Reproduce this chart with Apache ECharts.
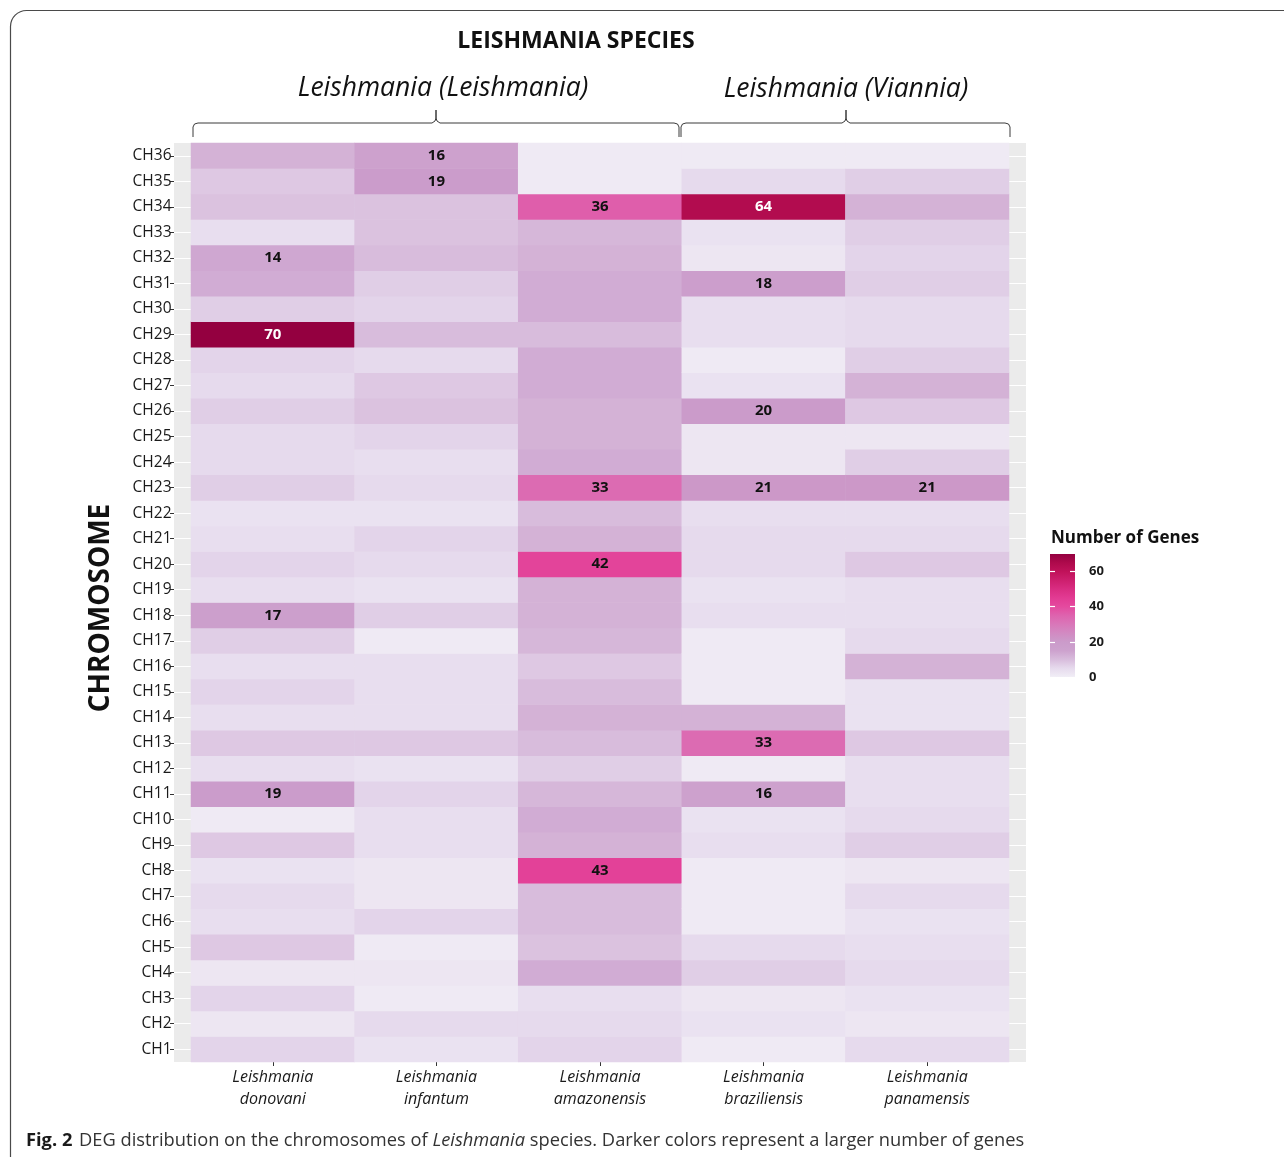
<!DOCTYPE html>
<html>
<head>
<meta charset="utf-8">
<title>DEG distribution on Leishmania chromosomes</title>
<script src="https://cdn.jsdelivr.net/npm/echarts@6/dist/echarts.min.js"></script>
<style>
  html, body { margin: 0; padding: 0; background: #ffffff; }
  #chart { width: 1284px; height: 1157px; }
</style>
</head>
<body>
<div id="chart"></div>
<script>
// Species (columns) and chromosomes (rows, CH1 at the bottom)
const species = ['donovani', 'infantum', 'amazonensis', 'braziliensis', 'panamensis'];
const chromosomes = Array.from({ length: 36 }, (_, i) => 'CH' + (i + 1));

// Number of differentially expressed genes per chromosome, CH1 ... CH36
const donovani     = [6, 2, 6, 2, 8, 4, 5, 3, 8, 1, 19, 4, 8, 4, 6, 4, 7, 17, 4, 6, 4, 3, 7, 5, 5, 7, 5, 6, 70, 7, 13, 14, 4, 9, 8, 12];
const infantum     = [3, 5, 1, 2, 1, 6, 2, 2, 4, 4, 6, 3, 8, 4, 4, 4, 1, 7, 3, 5, 6, 3, 5, 4, 6, 9, 8, 5, 10, 6, 7, 10, 9, 9, 19, 16];
const amazonensis  = [6, 5, 4, 13, 9, 10, 10, 43, 12, 13, 11, 7, 10, 12, 10, 8, 11, 12, 12, 42, 12, 10, 33, 13, 12, 12, 13, 13, 10, 13, 13, 12, 11, 36, 1, 1];
const braziliensis = [1, 3, 2, 7, 5, 1, 1, 1, 4, 3, 16, 1, 33, 12, 1, 1, 1, 4, 3, 5, 5, 4, 21, 2, 2, 20, 3, 1, 4, 4, 18, 2, 3, 64, 5, 1];
const panamensis   = [5, 2, 3, 5, 4, 3, 5, 2, 7, 5, 4, 4, 8, 3, 3, 12, 5, 4, 4, 8, 5, 4, 21, 7, 2, 8, 12, 7, 5, 5, 7, 6, 7, 12, 7, 1];

// Colour-bar ticks and the colour ramp of the gene counts (one colour every 5 genes)
const legendTicks = [0, 20, 40, 60];
const scaleMin = 0;
const scaleMax = 70;
const ramp = ['#f1eef6', '#e6daed', '#d8bcdc', '#cda2ce', '#cb9bca', '#d28ac2', '#d977b9', '#de63ae',
              '#e44a9f', '#e23b93', '#d92d82', '#cd1f6e', '#c0125a', '#ae0a4c', '#940040'];

const counts = [donovani, infantum, amazonensis, braziliensis, panamensis];
const labelThreshold = 14;

const FONT = "'Open Sans', 'Noto Sans', sans-serif";
const NARROW = "'Liberation Sans Narrow', 'Open Sans', sans-serif";

const cells = [];
counts.forEach((col, x) => {
  col.forEach((v, y) => {
    cells.push({
      value: [x, y, v],
      label: {
        show: v >= labelThreshold,
        color: v >= 60 ? '#ffffff' : '#111111'
      }
    });
  });
});

const chart = echarts.init(document.getElementById('chart'), null, { renderer: 'canvas' });

// Brace over a group of columns: ends turn down, peak in the middle
function brace(x0, x1, xm) {
  const yb = 123, yEnd = 137, yPeak = 110;
  return [
    { type: 'polyline', silent: true,
      shape: { points: [[x0, yEnd], [x0, yb + 4], [x0 + 1.5, yb + 1], [x0 + 5, yb], [xm - 4, yb], [xm - 1, yb - 2], [xm, yb - 5], [xm, yPeak]] },
      style: { stroke: '#3a3a3a', lineWidth: 1, fill: null } },
    { type: 'polyline', silent: true,
      shape: { points: [[xm, yPeak], [xm, yb - 5], [xm + 1, yb - 2], [xm + 4, yb], [x1 - 5, yb], [x1 - 1.5, yb + 1], [x1, yb + 4], [x1, yEnd]] },
      style: { stroke: '#3a3a3a', lineWidth: 1, fill: null } }
  ];
}

const option = {
  backgroundColor: '#ffffff',
  animation: false,
  grid: [
    // grey panel behind the tiles
    { left: 174, top: 143, width: 852, height: 919, show: true, backgroundColor: '#ebebeb', borderWidth: 0 },
    // tiles
    { left: 191, top: 143, width: 818, height: 919 },
    // colour bar
    { left: 1050, top: 554, width: 25, height: 123 }
  ],
  xAxis: [
    { gridIndex: 0, type: 'value', min: 0, max: 1, show: false },
    {
      gridIndex: 1, type: 'category', data: species,
      axisLine: { show: false },
      axisTick: { show: true, alignWithLabel: true, length: 4, lineStyle: { color: '#333333', width: 1 } },
      splitLine: { show: false },
      axisLabel: {
        margin: 4,
        fontFamily: FONT, fontStyle: 'italic', fontSize: 16, lineHeight: 22, color: '#1a1a1a',
        formatter: (s) => 'Leishmania\n' + s
      }
    },
    { gridIndex: 2, type: 'category', data: ['n'], show: false }
  ],
  yAxis: [
    { gridIndex: 0, type: 'category', data: chromosomes, show: false },
    {
      gridIndex: 1, type: 'category', data: chromosomes, offset: 17,
      axisLine: { show: false },
      axisTick: { show: true, alignWithLabel: true, length: 4, lineStyle: { color: '#333333', width: 1 } },
      splitLine: { show: false },
      axisLabel: { margin: 2.5, fontFamily: FONT, fontSize: 15.5, color: '#1a1a1a', padding: [3, 0, 0, 0] }
    },
    {
      gridIndex: 2, type: 'value', min: scaleMin, max: scaleMax, position: 'right', z: 5,
      axisLine: { show: false },
      axisTick: { show: true, inside: true, length: 5, customValues: legendTicks, lineStyle: { color: '#ffffff', width: 1.2 } },
      splitLine: { show: false },
      axisLabel: { margin: 14, customValues: legendTicks, fontFamily: FONT, fontWeight: 'bold', fontSize: 13, color: '#1a1a1a' }
    },
    {
      gridIndex: 2, type: 'value', min: scaleMin, max: scaleMax, position: 'left', z: 5,
      axisLine: { show: false },
      axisTick: { show: true, inside: true, length: 5, customValues: legendTicks, lineStyle: { color: '#ffffff', width: 1.2 } },
      splitLine: { show: false },
      axisLabel: { show: false }
    }
  ],
  visualMap: {
    type: 'continuous', show: false, seriesIndex: 1, dimension: 2,
    min: scaleMin, max: scaleMax, inRange: { color: ramp }
  },
  series: [
    {
      // white row guides in the grey panel
      type: 'scatter', xAxisIndex: 0, yAxisIndex: 0, z: 1, silent: true,
      symbolSize: 0, data: [[0, 0]],
      markLine: {
        z: 1, silent: true, symbol: 'none', animation: false,
        label: { show: false },
        lineStyle: { color: '#ffffff', width: 1.2, type: 'solid' },
        data: chromosomes.map((_, i) => ({ yAxis: i }))
      }
    },
    {
      type: 'heatmap', xAxisIndex: 1, yAxisIndex: 1, z: 10,
      data: cells,
      itemStyle: { borderWidth: 0 },
      label: {
        fontFamily: FONT, fontWeight: 'bold', fontSize: 15,
        formatter: (p) => p.value[2]
      },
      emphasis: { disabled: true }
    },
    {
      // colour bar
      type: 'bar', xAxisIndex: 2, yAxisIndex: 2, z: 2, silent: true,
      barWidth: '100%', data: [scaleMax],
      itemStyle: {
        color: new echarts.graphic.LinearGradient(0, 1, 0, 0,
          ramp.map((c, i) => ({ offset: i / (ramp.length - 1), color: c })))
      }
    }
  ],
  graphic: [
    {
      type: 'rect', silent: true, z: -10,
      shape: { x: 10.5, y: 10.5, width: 1320, height: 1200, r: 16 },
      style: { fill: null, stroke: '#4a4a4a', lineWidth: 1.2 }
    },
    {
      type: 'text', silent: true,
      style: { text: 'LEISHMANIA SPECIES', x: 576, y: 41, align: 'center', verticalAlign: 'middle',
               font: "bold 23px " + NARROW, fill: '#111111' }
    },
    {
      type: 'text', silent: true,
      style: { text: 'Leishmania (Leishmania)', x: 443, y: 88, align: 'center', verticalAlign: 'middle',
               font: "italic 26.5px " + FONT, fill: '#111111' }
    },
    {
      type: 'text', silent: true,
      style: { text: 'Leishmania (Viannia)', x: 846, y: 89, align: 'center', verticalAlign: 'middle',
               font: "italic 26.5px " + FONT, fill: '#111111' }
    },
    ...brace(193, 679, 436),
    ...brace(681, 1010, 846),
    {
      type: 'text', silent: true, rotation: Math.PI / 2, x: 101, y: 608,
      style: { text: 'CHROMOSOME', x: 0, y: 0, align: 'center', verticalAlign: 'middle',
               font: "bold 28px " + FONT, fill: '#111111' }
    },
    {
      type: 'text', silent: true,
      style: { text: 'Number of Genes', x: 1051, y: 538, align: 'left', verticalAlign: 'middle',
               font: "bold 17px " + FONT, fill: '#111111' }
    },
    {
      type: 'text', silent: true,
      style: {
        x: 26, y: 1141, verticalAlign: 'middle',
        text: '{b|Fig. 2}  {r|DEG distribution on the chromosomes of }{i|Leishmania}{r| species. Darker colors represent a larger number of genes}',
        rich: {
          b: { fontFamily: FONT, fontWeight: 'bold', fontSize: 18.3, fill: '#1a1a1a' },
          r: { fontFamily: FONT, fontSize: 18.3, fill: '#333333' },
          i: { fontFamily: FONT, fontStyle: 'italic', fontSize: 18.3, fill: '#333333' }
        }
      }
    }
  ]
};

chart.setOption(option);
</script>
</body>
</html>
